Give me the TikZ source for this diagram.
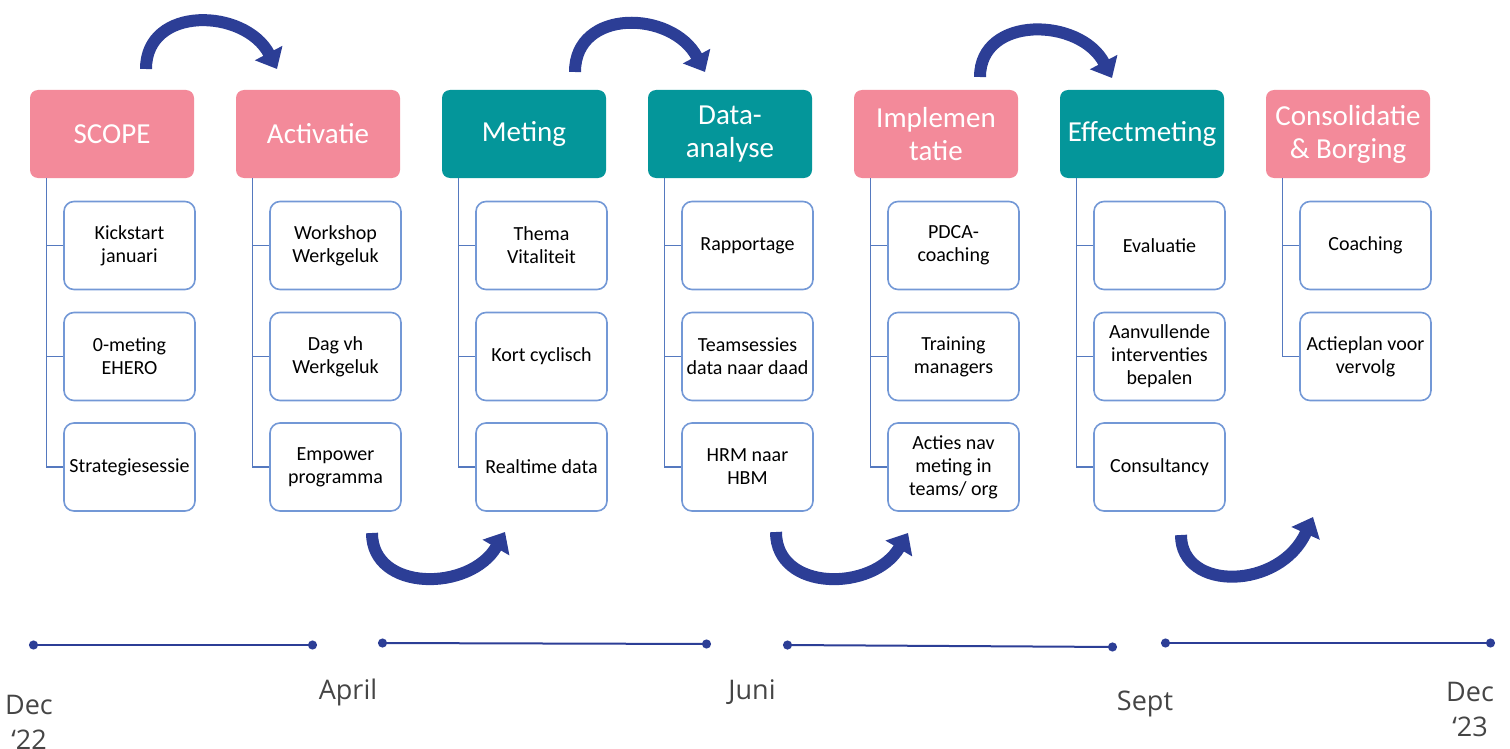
\documentclass[tikz,border=0pt]{standalone}
\usepackage{fontspec}
\setmainfont{Carlito}
\newfontfamily\datefont{Open Sans}
\usepackage{tikz}
\usetikzlibrary{arrows.meta}
\definecolor{roze}{HTML}{F38A9A}
\definecolor{petrol}{HTML}{04969A}
\definecolor{kader}{HTML}{7398D6}
\definecolor{lijn}{HTML}{5579BF}
\definecolor{pijl}{HTML}{2C3E96}
\definecolor{grijs}{HTML}{454545}

\begin{document}
\begin{tikzpicture}[x=0.5pt,y=-0.5pt]
					\tikzstyle{fase}=[rounded corners=4pt,minimum width=82pt,minimum height=44pt,text=white,font=\fontsize{14.5}{16.5}\selectfont,align=center,inner sep=1pt]
					\tikzstyle{roos}=[fase,fill=roze]
					\tikzstyle{groen}=[fase,fill=petrol]
					\tikzstyle{taak}=[draw=kader,line width=0.8pt,rounded corners=5pt,fill=white,minimum width=65.5pt,minimum height=44pt,align=center,font=\fontsize{10}{11.5}\selectfont,inner sep=1pt]
					\tikzstyle{tak}=[draw=lijn,line width=0.6pt]
					\tikzstyle{boog}=[draw=pijl,line width=6pt,-{Triangle[width=15pt,length=9pt]}]
					\tikzstyle{tijd}=[draw=pijl,line width=1pt,{Circle[length=4.5pt]}-{Circle[length=4.5pt]}]
					\tikzstyle{maand}=[text=grijs,font=\datefont\fontsize{13.5}{17.5}\selectfont,align=center]
					\useasboundingbox (0,0) rectangle (1510,749);
					% fases
					\node[roos] (1) at (112,134) {SCOPE};
					\node[roos] (2) at (318,134) {Activatie};
					\node[groen] (3) at (524,134) {Meting};
					\node[groen] (4) at (730,134) {Data-\\analyse};
					\node[roos] (5) at (936,134) {Implemen\\tatie};
					\node[groen] (6) at (1142,134) {Effectmeting};
					\node[roos] (7) at (1348,134) {Consolidatie\\\& Borging};
					% taken
					\node[taak] (1a) at (129.5,245.5) {Kickstart\\januari};
					\node[taak] (1b) at (129.5,356.5) {0-meting\\EHERO};
					\node[taak] (1c) at (129.5,467) {Strategiesessie};
					\node[taak] (2a) at (335.5,245.5) {Workshop\\Werkgeluk};
					\node[taak] (2b) at (335.5,356.5) {Dag vh\\Werkgeluk};
					\node[taak] (2c) at (335.5,467) {Empower\\programma};
					\node[taak] (3a) at (541.5,245.5) {Thema\\Vitaliteit};
					\node[taak] (3b) at (541.5,356.5) {Kort cyclisch};
					\node[taak] (3c) at (541.5,467) {Realtime data};
					\node[taak] (4a) at (747.5,245.5) {Rapportage};
					\node[taak] (4b) at (747.5,356.5) {Teamsessies\\data naar daad};
					\node[taak] (4c) at (747.5,467) {HRM naar\\HBM};
					\node[taak] (5a) at (953.5,245.5) {PDCA-\\coaching};
					\node[taak] (5b) at (953.5,356.5) {Training\\managers};
					\node[taak] (5c) at (953.5,467) {Acties nav\\meting in\\teams/ org};
					\node[taak] (6a) at (1159.5,245.5) {Evaluatie};
					\node[taak] (6b) at (1159.5,356.5) {Aanvullende\\interventies\\bepalen};
					\node[taak] (6c) at (1159.5,467) {Consultancy};
					\node[taak] (7a) at (1365.5,245.5) {Coaching};
					\node[taak] (7b) at (1365.5,356.5) {Actieplan voor\\vervolg};
					% takken
					\draw[tak] ([xshift=8.5pt]1.south west) |- (1a.west);
					\draw[tak] ([xshift=8.5pt]1.south west) |- (1b.west);
					\draw[tak] ([xshift=8.5pt]1.south west) |- (1c.west);
					\draw[tak] ([xshift=8.5pt]2.south west) |- (2a.west);
					\draw[tak] ([xshift=8.5pt]2.south west) |- (2b.west);
					\draw[tak] ([xshift=8.5pt]2.south west) |- (2c.west);
					\draw[tak] ([xshift=8.5pt]3.south west) |- (3a.west);
					\draw[tak] ([xshift=8.5pt]3.south west) |- (3b.west);
					\draw[tak] ([xshift=8.5pt]3.south west) |- (3c.west);
					\draw[tak] ([xshift=8.5pt]4.south west) |- (4a.west);
					\draw[tak] ([xshift=8.5pt]4.south west) |- (4b.west);
					\draw[tak] ([xshift=8.5pt]4.south west) |- (4c.west);
					\draw[tak] ([xshift=8.5pt]5.south west) |- (5a.west);
					\draw[tak] ([xshift=8.5pt]5.south west) |- (5b.west);
					\draw[tak] ([xshift=8.5pt]5.south west) |- (5c.west);
					\draw[tak] ([xshift=8.5pt]6.south west) |- (6a.west);
					\draw[tak] ([xshift=8.5pt]6.south west) |- (6b.west);
					\draw[tak] ([xshift=8.5pt]6.south west) |- (6c.west);
					\draw[tak] ([xshift=8.5pt]7.south west) |- (7a.west);
					\draw[tak] ([xshift=8.5pt]7.south west) |- (7b.west);
					% bogen
					\coordinate (a1) at (146,69);
					\coordinate (b1) at (277,69);
					\coordinate (a2) at (575,72);
					\coordinate (b2) at (705,72);
					\coordinate (a3) at (980,77);
					\coordinate (b3) at (1112,78);
					\coordinate (a4) at (372,533);
					\coordinate (b4) at (505,532);
					\coordinate (a5) at (776,532);
					\coordinate (b5) at (908,533);
					\coordinate (a6) at (1181,535);
					\coordinate (b6) at (1313,517);
					\draw[boog] (a1) .. controls (146,5) and (245,8) .. (b1);
					\draw[boog] (a2) .. controls (575,8) and (672,10) .. (b2);
					\draw[boog] (a3) .. controls (980,15) and (1080,17) .. (b3);
					\draw[boog] (a4) .. controls (372,592) and (470,592) .. (b4);
					\draw[boog] (a5) .. controls (776,592) and (873,592) .. (b5);
					\draw[boog] (a6) .. controls (1181,592) and (1280,590) .. (b6);
					% tijdlijn
					\coordinate (d1) at (29,645);
					\coordinate (d2) at (317,645);
					\coordinate (d3) at (378,643);
					\coordinate (d4) at (711,644);
					\coordinate (d5) at (783,645);
					\coordinate (d6) at (1117,647);
					\coordinate (d7) at (1161,643);
					\coordinate (d8) at (1495,643);
					\draw[tijd] (d1) -- (d2);
					\draw[tijd] (d3) -- (d4);
					\draw[tijd] (d5) -- (d6);
					\draw[tijd] (d7) -- (d8);
					\node[maand] (m1) at (29,722) {Dec\\‘22};
					\node[maand] (m2) at (348,692) {April};
					\node[maand] (m3) at (752,692) {Juni};
					\node[maand] (m4) at (1145,704) {Sept};
					\node[maand] (m5) at (1470,709) {Dec\\‘23};
\end{tikzpicture}
\end{document}
